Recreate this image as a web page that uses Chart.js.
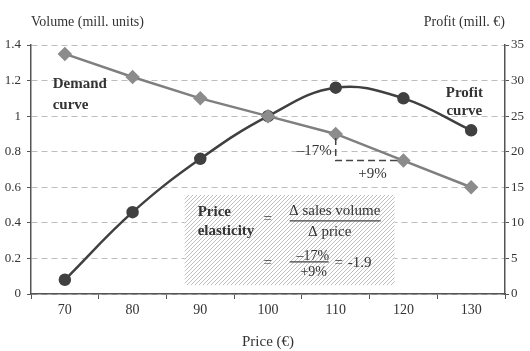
<!DOCTYPE html>
<html>
<head>
<meta charset="utf-8">
<script src="https://cdn.jsdelivr.net/npm/chart.js@4.4.0/dist/chart.umd.min.js"></script>
<style>
  html, body { margin: 0; padding: 0; background: #fff; }
  #wrap { width: 530px; height: 351px; }
</style>
</head>
<body>
<div id="wrap"><canvas id="chart"></canvas></div>
<script>
const prices = ["70", "80", "90", "100", "110", "120", "130"]
const demand = [1.35, 1.22, 1.1, 1.0, 0.9, 0.75, 0.6]   // mill. units, left axis
const profit = [2, 11.5, 19, 25, 29, 27.5, 23]         // mill. €, right axis
const volumeTicks = { min: 0, max: 1.4, step: 0.2 }
const profitTicks = { min: 0, max: 35, step: 5 }

const FONT = "'Liberation Serif', 'DejaVu Serif', serif"
const INK = "#333"
const AXIS = "#555"

// diagonal hatch for the elasticity box
function hatch(ctx) {
  const t = document.createElement("canvas")
  t.width = 4; t.height = 4
  const g = t.getContext("2d")
  g.fillStyle = "#fff"; g.fillRect(0, 0, 4, 4)
  g.strokeStyle = "#b8b8b8"; g.lineWidth = 0.9
  g.beginPath()
  g.moveTo(0, 4); g.lineTo(4, 0)
  g.moveTo(-1, 1); g.lineTo(1, -1)
  g.moveTo(3, 5); g.lineTo(5, 3)
  g.stroke()
  return ctx.createPattern(t, "repeat")
}

function txt(ctx, s, x, y, opt = {}) {
  ctx.font = (opt.bold ? "bold " : "") + (opt.size || 15) + "px " + FONT
  ctx.fillStyle = opt.color || INK
  ctx.textAlign = opt.align || "left"
  ctx.textBaseline = "middle"
  ctx.fillText(s, x, y)
}

const annotations = {
  id: "annotations",
  beforeDatasetsDraw(chart) {
    const { ctx, scales: { x, y } } = chart
    // elasticity box
    const l = x.getPixelForValue(1.77), r = x.getPixelForValue(4.87)
    const t = y.getPixelForValue(0.557), b = y.getPixelForValue(0.05)
    ctx.save()
    ctx.fillStyle = hatch(ctx)
    ctx.fillRect(l, t, r - l, b - t)
    ctx.restore()
  },
  afterDraw(chart) {
    const { ctx, chartArea: ca, scales: { x, y } } = chart
    ctx.save()
    // axis titles
    txt(ctx, "Volume (mill. units)", ca.left, 22, { size: 14 })
    txt(ctx, "Profit (mill. €)", ca.right, 22, { size: 14, align: "right" })

    // curve labels
    txt(ctx, "Demand", x.getPixelForValue(-0.18), y.getPixelForValue(1.18), { bold: true })
    txt(ctx, "curve", x.getPixelForValue(-0.18), y.getPixelForValue(1.06), { bold: true })
    txt(ctx, "Profit", x.getPixelForValue(5.9), y.getPixelForValue(1.13), { bold: true, align: "center" })
    txt(ctx, "curve", x.getPixelForValue(5.9), y.getPixelForValue(1.03), { bold: true, align: "center" })

    // -17% / +9% step
    const x1 = x.getPixelForValue(4), x2 = x.getPixelForValue(5)
    const y1 = y.getPixelForValue(demand[4]), y2 = y.getPixelForValue(demand[5])
    ctx.strokeStyle = "#444"; ctx.lineWidth = 1.5
    ctx.setLineDash([7, 4])
    ctx.beginPath()
    ctx.moveTo(x1, y1 + 4); ctx.lineTo(x1, y2); ctx.lineTo(x2 - 5, y2)
    ctx.stroke()
    ctx.setLineDash([])
    txt(ctx, "–17%", x1 - 4, (y1 + y2) / 2 + 4, { align: "right" })
    txt(ctx, "+9%", (x1 + x2) / 2 + 3, y2 + 13, { align: "center" })

    // formula inside the box
    const l = x.getPixelForValue(1.77), t = y.getPixelForValue(0.557)
    txt(ctx, "Price", l + 13, t + 17, { bold: true })
    txt(ctx, "elasticity", l + 13, t + 36, { bold: true })
    txt(ctx, "=", l + 83, t + 24, { align: "center" })
    txt(ctx, "Δ sales volume", l + 150, t + 16, { align: "center" })
    ctx.strokeStyle = "#444"; ctx.lineWidth = 1.2
    ctx.beginPath(); ctx.moveTo(l + 105, t + 26); ctx.lineTo(l + 196, t + 26); ctx.stroke()
    txt(ctx, "Δ price", l + 145, t + 37, { align: "center" })
    txt(ctx, "=", l + 83, t + 68, { align: "center" })
    txt(ctx, "–17%", l + 128, t + 61, { align: "center", size: 14 })
    ctx.beginPath(); ctx.moveTo(l + 105, t + 67); ctx.lineTo(l + 144, t + 67); ctx.stroke()
    txt(ctx, "+9%", l + 129, t + 77, { align: "center", size: 14 })
    txt(ctx, "=", l + 154, t + 68, { align: "center" })
    txt(ctx, "-1.9", l + 163, t + 68)
    ctx.restore()
  }
}

new Chart(document.getElementById("chart"), {
  type: "line",
  data: {
    labels: prices,
    datasets: [
      {
        label: "Demand curve", data: demand, yAxisID: "y",
        borderColor: "#7f7f7f", borderWidth: 2.5, tension: 0,
        pointStyle: "rectRot", pointRadius: 5.5,
        pointBackgroundColor: "#8c8c8c", pointBorderColor: "#8c8c8c",
      },
      {
        label: "Profit curve", data: profit, yAxisID: "y1",
        borderColor: "#404040", borderWidth: 2.5, tension: 0.4,
        pointStyle: "circle", pointRadius: 5,
        pointBackgroundColor: "#404040", pointBorderColor: "#404040",
      },
    ],
  },
  options: {
    responsive: true,
    maintainAspectRatio: false,
    animation: false,
    layout: { padding: { top: 45, left: 0, right: 0, bottom: 0 } },
    plugins: { legend: { display: false }, tooltip: { enabled: false } },
    scales: {
      x: {
        offset: true,
        grid: { offset: true, drawOnChartArea: false, drawTicks: true, tickLength: 5, tickColor: AXIS, tickWidth: 1 },
        border: { color: AXIS, width: 1.5 },
        ticks: { color: INK, font: { family: FONT, size: 14 }, padding: 3, maxRotation: 0 },
        title: { display: true, text: "Price (€)", color: INK, font: { family: FONT, size: 15 }, padding: { top: 1, bottom: 0 } },
        afterFit: (s) => { s.height = 57 },
      },
      y: {
        position: "left",
        min: volumeTicks.min, max: volumeTicks.max,
        grid: { color: "#bdbdbd", lineWidth: 1, tickColor: AXIS, tickLength: 4 },
        border: { color: AXIS, width: 1.5, dash: [6, 4] },
        ticks: {
          stepSize: volumeTicks.step, color: INK, font: { family: FONT, size: 13 }, padding: 6,
          callback: (v) => String(Math.round(v * 10) / 10),
        },
        afterFit: (s) => { s.width = 31 },
      },
      y1: {
        position: "right",
        min: profitTicks.min, max: profitTicks.max,
        grid: { drawOnChartArea: false, tickColor: AXIS, tickLength: 4 },
        border: { color: AXIS, width: 1.5 },
        ticks: { stepSize: profitTicks.step, color: INK, font: { family: FONT, size: 13 }, padding: 2 },
        afterFit: (s) => { s.width = 25 },
      },
    },
  },
  plugins: [annotations],
})
</script>
</body>
</html>
